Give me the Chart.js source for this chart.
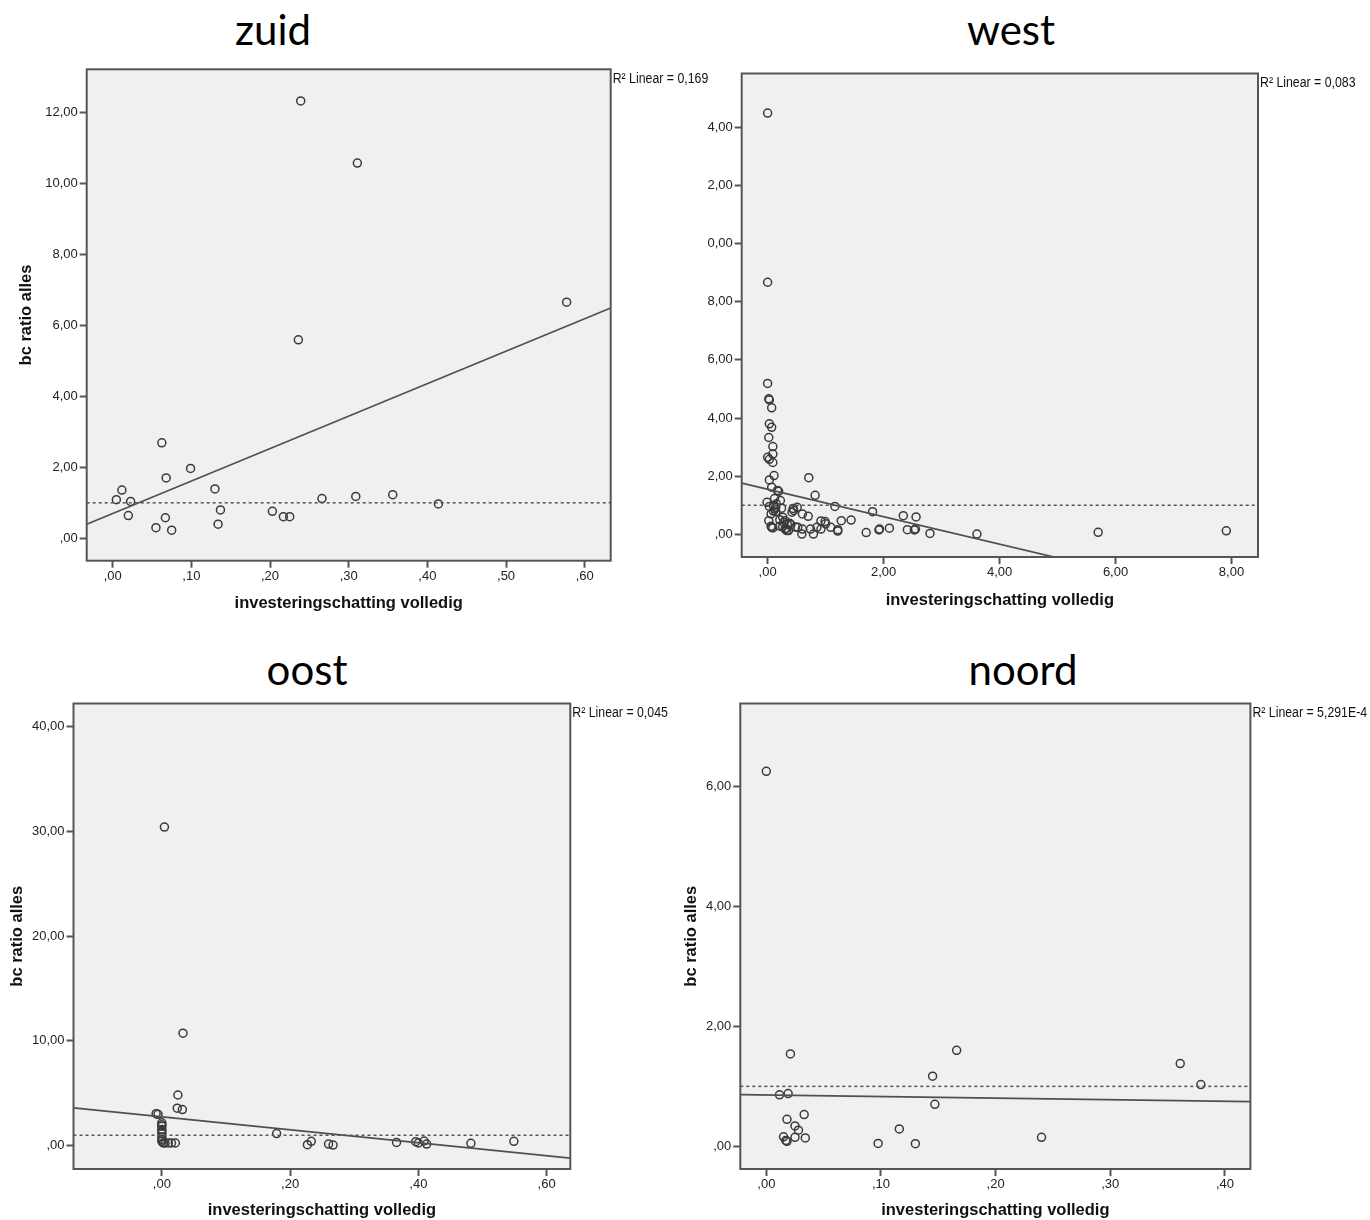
<!DOCTYPE html>
<html>
<head>
<meta charset="utf-8">
<script src="https://cdn.jsdelivr.net/npm/chart.js@4.4.1/dist/chart.umd.min.js"></script>
<style>
  body { margin: 0; width: 1370px; height: 1220px; background: #fff; position: relative; overflow: hidden; }
  canvas { position: absolute; }
  .ttl { position: absolute; font-family: Lato, "Open Sans", sans-serif; font-size: 42px; line-height: 42px; color: #000; transform: translateX(-50%); white-space: nowrap; }
</style>
</head>
<body>
<div class="ttl" style="left:273px;top:8px">zuid</div>
<div class="ttl" style="left:1011px;top:8px">west</div>
<div class="ttl" style="left:307px;top:648px">oost</div>
<div class="ttl" style="left:1023px;top:648px">noord</div>

<canvas id="zuid" width="720" height="620" style="left:0;top:0"></canvas>
<canvas id="west" width="663" height="620" style="left:707px;top:0"></canvas>
<canvas id="oost" width="680" height="580" style="left:0;top:640px"></canvas>
<canvas id="noord" width="690" height="580" style="left:680px;top:640px"></canvas>

<script>
// --- data ---
const zuidX = [0.239, 0.311, 0.577, 0.236, 0.0625, 0.068, 0.099, 0.0117, 0.0047, 0.0228, 0.0199, 0.055,
    0.067, 0.075, 0.130, 0.137, 0.134, 0.203, 0.217, 0.225, 0.266, 0.309, 0.356, 0.414];
const zuidY = [12.32, 10.57, 6.65, 5.59, 2.69, 1.70, 1.97, 1.36, 1.09, 1.04, 0.64, 0.30,
    0.58, 0.23, 1.39, 0.80, 0.40, 0.76, 0.61, 0.61, 1.12, 1.18, 1.23, 0.97];

const westX = [0.00, 0.00, 3.61, 5.70, 7.91,
    0.00, 0.02, 0.03, 0.07, 0.03, 0.07, 0.02, 0.09, 0.09, 0.00, 0.03, 0.09, 0.11, 0.03, 0.71,
    0.07, 0.19, 0.82, -0.01, 0.22, 0.10, 0.14, 1.16, 1.81, 0.44, 0.51, 0.42, 2.34, 2.56, 0.06,
    0.60, 0.70, 0.02, 0.21, 0.28, 0.38, 0.92, 0.99, 1.27, 1.44, 0.07, 0.21, 0.30, 0.33, 0.40,
    0.52, 0.60, 0.74, 0.85, 0.92, 1.00, 1.09, 1.21, 1.21, 0.59, 0.79, 1.70, 1.93, 1.92, 2.10,
    2.41, 2.53, 2.55, 2.80, 0.03, 0.14, 0.12, 0.15, 0.10, 0.26, 0.30, 0.34, 0.32, 0.26, 0.48,
    0.36, 0.06, 0.09, 0.45, 0.17, 0.24, 0.12];
const westY = [14.49, 8.67, 0.01, 0.07, 0.12,
    5.19, 4.66, 4.62, 4.35, 3.80, 3.68, 3.33, 3.02, 2.76, 2.65, 2.58, 2.47, 2.02, 1.87, 1.95,
    1.62, 1.48, 1.34, 1.10, 1.16, 0.99, 0.93, 0.96, 0.78, 0.89, 0.93, 0.76, 0.64, 0.60, 0.70,
    0.70, 0.62, 0.47, 0.50, 0.41, 0.38, 0.46, 0.44, 0.47, 0.49, 0.24, 0.28, 0.18, 0.13, 0.33,
    0.24, 0.18, 0.18, 0.24, 0.18, 0.36, 0.24, 0.16, 0.11, 0.01, 0.01, 0.06, 0.18, 0.15, 0.21,
    0.16, 0.15, 0.18, 0.03, 0.96, 0.78, 1.23, 1.05, 0.80, 0.59, 0.47, 0.34, 0.20, 0.26, 0.25,
    0.13, 0.28, 0.22, 0.82, 1.51, 0.90, 0.87];

const oostX = [0.004, 0.033, 0.025, 0.024, 0.032, -0.009, -0.006, 0.000, 0.000, 0.000, 0.000, 0.000,
    0.000, 0.000, 0.000, 0.000, 0.002, 0.005, 0.010, 0.015, 0.021, 0.179, 0.227, 0.233, 0.260,
    0.267, 0.366, 0.396, 0.400, 0.409, 0.413, 0.482, 0.549];
const oostY = [30.4, 10.74, 4.84, 3.58, 3.45, 3.06, 3.00, 2.19, 2.00, 1.87, 1.55, 1.35,
    1.16, 0.84, 0.60, 0.42, 0.26, 0.26, 0.26, 0.26, 0.26, 1.16, 0.10, 0.42, 0.16,
    0.06, 0.32, 0.39, 0.26, 0.45, 0.16, 0.23, 0.42];

const noordX = [0.000, 0.021, 0.166, 0.361, 0.379, 0.145, 0.147, 0.0115, 0.019, 0.018, 0.033, 0.025,
    0.028, 0.015, 0.025, 0.034, 0.017, 0.018, 0.116, 0.0975, 0.130, 0.240];
const noordY = [6.25, 1.54, 1.60, 1.38, 1.03, 1.17, 0.70, 0.86, 0.88, 0.45, 0.53, 0.34,
    0.27, 0.16, 0.15, 0.14, 0.10, 0.085, 0.29, 0.05, 0.045, 0.15];

// tick values
const zuidXTicks = [0, 0.1, 0.2, 0.3, 0.4, 0.5, 0.6];
const zuidYTicks = [0, 2, 4, 6, 8, 10, 12];
const westXTicks = [0, 2, 4, 6, 8];
const westYTicks = [0, 2, 4, 6, 8, 10, 12, 14];
const oostXTicks = [0, 0.2, 0.4, 0.6];
const oostYTicks = [0, 10, 20, 30, 40];
const noordXTicks = [0, 0.1, 0.2, 0.3, 0.4];
const noordYTicks = [0, 2, 4, 6];

// linear fit (intercept, slope) and R2 labels
const zuidFit = [0.70, 9.14];
const westFit = [1.55, -0.472];
const oostFit = [2.76, -6.2];
const noordFit = [0.856, -0.265];
const r2Labels = ["0,169", "0,083", "0,045", "5,291E-4"];
const refLine = 1;

const xTitle = "investeringschatting volledig";
const yTitle = "bc ratio alles";

// SPSS style number format: ,00  2,00  12,00
const fmt = (v) => {
    const s = Math.abs(v).toFixed(2).replace(".", ",");
    return s.startsWith("0,") ? s.slice(1) : s;
};

const tickFont = { family: "'Liberation Sans', Arial", size: 13 };
const titleFont = { family: "'Liberation Sans', Arial", size: 16.5, weight: "bold" };

const boxPlugin = {
    id: "box",
    beforeDraw(chart) {
        const { ctx, chartArea: a } = chart;
        ctx.save();
        ctx.fillStyle = "#f0f0f0";
        ctx.fillRect(a.left, a.top, a.right - a.left, a.bottom - a.top);
        ctx.restore();
    },
    afterDraw(chart, args, opts) {
        const { ctx, chartArea: a } = chart;
        ctx.save();
        ctx.strokeStyle = "#555";
        ctx.lineWidth = 2;
        ctx.strokeRect(a.left, a.top, a.right - a.left, a.bottom - a.top);
        // narrow-looking label like the SPSS output
        ctx.translate(a.right + 2, a.top + 10);
        ctx.scale(0.88, 1);
        ctx.fillStyle = "#111";
        ctx.font = "14px 'Liberation Sans', Arial";
        ctx.textBaseline = "middle";
        ctx.fillText("R² Linear = " + opts.r2, 0, 0);
        ctx.restore();
    },
};

function makePanel(id, p) {
    const pts = p.xs.map((x, i) => ({ x: x, y: p.ys[i] }));
    const fit = [p.xMin, p.xMax].map((x) => ({ x: x, y: p.fit[0] + p.fit[1] * x }));
    const ref = [p.xMin, p.xMax].map((x) => ({ x: x, y: refLine }));

    return new Chart(document.getElementById(id), {
        type: "scatter",
        plugins: [boxPlugin],
        data: {
            datasets: [
                { data: ref, showLine: true, pointRadius: 0, borderColor: "#555", borderWidth: 1.5, borderDash: [3, 3] },
                { data: fit, showLine: true, pointRadius: 0, borderColor: "#505050", borderWidth: 1.7 },
                { data: pts, pointRadius: 4, pointBorderWidth: 1.5, borderColor: "#3a3a3a", backgroundColor: "rgba(0,0,0,0)" },
            ],
        },
        options: {
            responsive: false,
            animation: false,
            layout: { padding: p.pad },
            plugins: {
                legend: { display: false },
                tooltip: { enabled: false },
                box: { r2: p.r2 },
            },
            scales: {
                x: {
                    type: "linear",
                    min: p.xMin,
                    max: p.xMax,
                    afterBuildTicks: (s) => { s.ticks = p.xTicks.map((v) => ({ value: v })); },
                    afterFit: (s) => { s.height = p.xAxisH; },
                    grid: { drawOnChartArea: false, drawTicks: true, tickLength: 7, tickWidth: 2, tickColor: "#555" },
                    border: { display: false },
                    ticks: { callback: fmt, font: tickFont, color: "#222", padding: 1, maxRotation: 0, autoSkip: false },
                    title: { display: true, text: xTitle, font: titleFont, color: "#111", padding: { top: 0, bottom: p.xTitlePad } },
                },
                y: {
                    type: "linear",
                    min: p.yMin,
                    max: p.yMax,
                    afterBuildTicks: (s) => { s.ticks = p.yTicks.map((v) => ({ value: v })); },
                    afterFit: (s) => { s.width = p.yAxisW; },
                    grid: { drawOnChartArea: false, drawTicks: true, tickLength: 7, tickWidth: 2, tickColor: "#555" },
                    border: { display: false },
                    ticks: { callback: fmt, font: tickFont, color: "#222", padding: 2, autoSkip: false },
                    title: { display: p.yTitlePad !== null, text: yTitle, font: titleFont, color: "#111", padding: { top: p.yTitlePad || 0, bottom: 0 } },
                },
            },
        },
    });
}

makePanel("zuid", {
    xs: zuidX, ys: zuidY, xTicks: zuidXTicks, yTicks: zuidYTicks, fit: zuidFit, r2: r2Labels[0],
    xMin: -0.033, xMax: 0.633, yMin: -0.63, yMax: 13.21,
    pad: { left: 0, top: 69.3, right: 109.3, bottom: 0 }, yAxisW: 86.7, xAxisH: 59.3, xTitlePad: 7, yTitlePad: 17,
});

makePanel("west", {
    xs: westX, ys: westY, xTicks: westXTicks, yTicks: westYTicks, fit: westFit, r2: r2Labels[1],
    xMin: -0.447, xMax: 8.457, yMin: -0.78, yMax: 15.85,
    pad: { left: 0, top: 73.5, right: 112, bottom: 0 }, yAxisW: 34.7, xAxisH: 63, xTitlePad: 10, yTitlePad: null,
});

makePanel("oost", {
    xs: oostX, ys: oostY, xTicks: oostXTicks, yTicks: oostYTicks, fit: oostFit, r2: r2Labels[2],
    xMin: -0.1378, xMax: 0.637, yMin: -2.22, yMax: 42.19,
    pad: { left: 0, top: 63.5, right: 109.7, bottom: 0 }, yAxisW: 73.5, xAxisH: 51, xTitlePad: 0, yTitlePad: 7.4,
});

makePanel("noord", {
    xs: noordX, ys: noordY, xTicks: noordXTicks, yTicks: noordYTicks, fit: noordFit, r2: r2Labels[3],
    xMin: -0.0227, xMax: 0.4222, yMin: -0.377, yMax: 7.38,
    pad: { left: 0, top: 63.5, right: 119.6, bottom: 0 }, yAxisW: 60.3, xAxisH: 51, xTitlePad: 0, yTitlePad: 1.1,
});
</script>
</body>
</html>
